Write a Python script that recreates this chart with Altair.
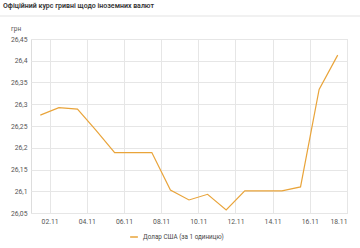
import altair as alt
import pandas as pd

days = list(range(1, 18))
values = [26.275, 26.292, 26.289, 26.240, 26.189, 26.189, 26.189, 26.103, 26.080,
          26.093, 26.057, 26.101, 26.101, 26.101, 26.110, 26.334, 26.413]
series_name = "Долар США (за 1 одиницю)"
tick_days = [2, 4, 6, 8, 10, 12, 14, 16, 18]
y_ticks = [26.05, 26.1, 26.15, 26.2, 26.25, 26.3, 26.35, 26.4, 26.45]

df = pd.DataFrame({
    "date": [f"2021-11-{d:02d}T12:00:00" for d in days],
    "value": values,
    "series": [series_name] * len(days),
})

FONT = "Roboto"
COLOR = "#E9A43A"

line = alt.Chart(df).mark_line(strokeWidth=1.2, color=COLOR).encode(
    x=alt.X("date:T",
            scale=alt.Scale(domain=[alt.DateTime(year=2021, month=11, date=1),
                                    alt.DateTime(year=2021, month=11, date=18)]),
            axis=alt.Axis(values=[alt.DateTime(year=2021, month=11, date=d) for d in tick_days],
                          format="%d.%m", title=None, domain=False, ticks=False,
                          labelPadding=5, labelFontSize=6.8, labelColor="#555",
                          gridColor="#e6e6e6", labelFont=FONT)),
    y=alt.Y("value:Q",
            scale=alt.Scale(domain=[26.05, 26.45], zero=False, nice=False),
            axis=alt.Axis(values=y_ticks, title=None, domain=False, ticks=False,
                          labelExpr="replace(format(datum.value, '.2~f'), '.', ',')",
                          labelPadding=4, labelFontSize=6.8, labelColor="#555",
                          gridColor="#e6e6e6", labelFont=FONT)),
    color=alt.Color("series:N", scale=alt.Scale(range=[COLOR]),
                    legend=alt.Legend(title=None, orient="none", legendX=98, legendY=193,
                                      symbolType="stroke", symbolStrokeWidth=1.5,
                                      symbolSize=60, labelFontSize=6.3, labelColor="#444",
                                      labelFont=FONT)),
)

title = alt.Chart(pd.DataFrame({"t": ["Офіційний курс гривні щодо іноземних валют"]})).mark_text(
    align="left", baseline="middle", fontSize=7, fontWeight=600, color="#333", font=FONT
).encode(text="t:N", x=alt.value(-28), y=alt.value(-33))

sep = alt.Chart(pd.DataFrame({"a": [0]})).mark_rule(color="#e3e3e3", strokeWidth=1).encode(
    x=alt.value(-31), x2=alt.value(329), y=alt.value(-23))

unit = alt.Chart(pd.DataFrame({"t": ["грн"]})).mark_text(
    align="left", baseline="middle", fontSize=6.5, color="#555", font=FONT
).encode(text="t:N", x=alt.value(-20), y=alt.value(-10))

chart = alt.layer(line, sep, title, unit).properties(
    width=316, height=174,
    autosize=alt.AutoSizeParams(type="none"),
    padding={"left": 31, "top": 39, "right": 13, "bottom": 35},
).configure_view(stroke=None).configure(background="white")

chart.save("out.html", embed_options={"renderer": "svg", "actions": False})
